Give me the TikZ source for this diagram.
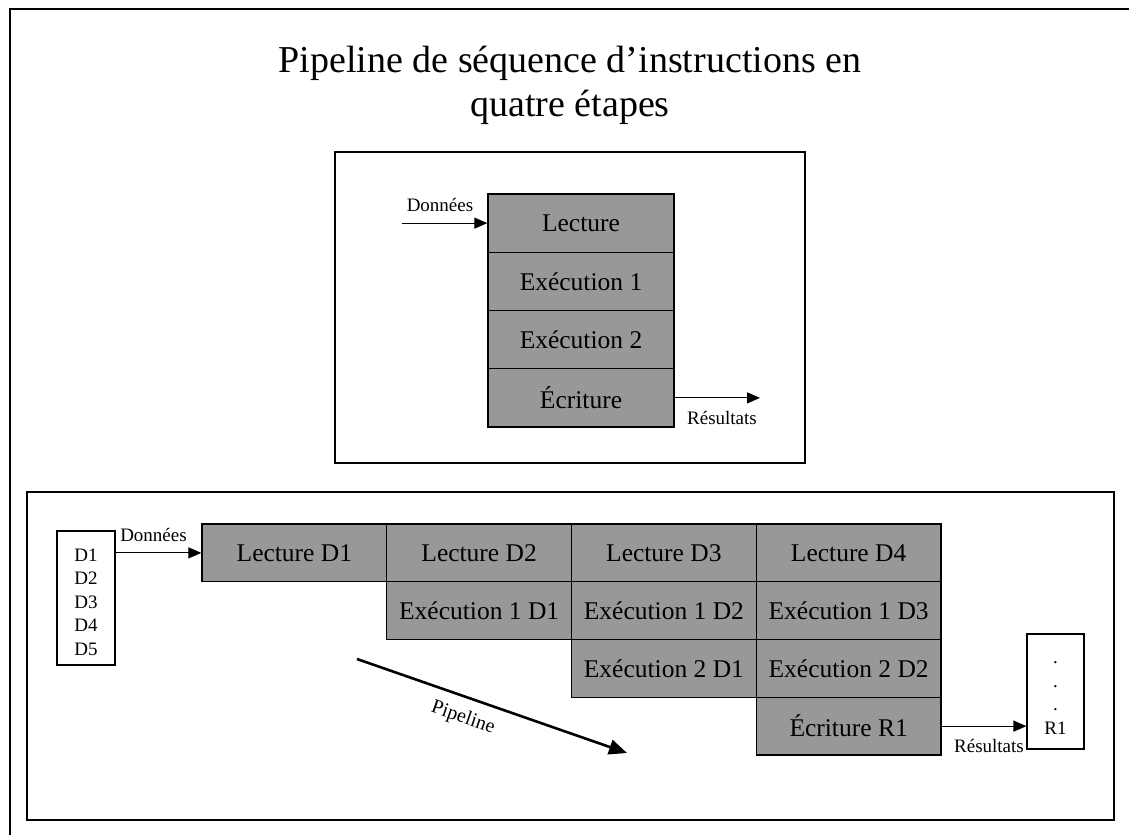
\documentclass[tikz,border=0pt]{standalone}
\usepackage{fontspec}
\setmainfont{Liberation Serif}
\usetikzlibrary{arrows.meta}
\definecolor{cellgray}{RGB}{152,152,152}
\newcommand\pxfont[1]{\fontsize{#1}{#1}\selectfont}
\begin{document}
\begin{tikzpicture}[x=1pt,y=-1pt,
  frame/.style={draw, line width=1.3pt},
  cell/.style={draw, line width=1.3pt, fill=cellgray, inner sep=0pt, font=\pxfont{25.5}},
  upcell/.style={cell, minimum width=186pt, minimum height=58.25pt},
  locell/.style={cell, minimum width=184.75pt, minimum height=57.75pt},
  lbl/.style={font=\pxfont{19}, inner sep=0pt},
  flow/.style={line width=1.2pt, -{Triangle[length=13pt,width=11pt]}},
  pipe/.style={line width=2.6pt, -{Triangle[length=18pt,width=15pt]}},
  listbox/.style={draw, line width=1.1pt, inner sep=0pt},
  listtext/.style={align=center, font=\fontsize{19}{23.5}\selectfont, inner sep=0pt},
  titletext/.style={font=\pxfont{38}, anchor=base, inner sep=0pt}
]
\useasboundingbox (0,0) rectangle (1129,835);

% outer frame (open on the right and at the bottom)
\draw[frame] (1129,9) -- (10,9) -- (10,835);

% title
\node[titletext] (title1) at (570,72) {Pipeline de séquence d’instructions en};
\node[titletext] (title2) at (570,116) {quatre étapes};

% ---- upper panel: one instruction through the four stages ----
\node[frame, minimum width=470pt, minimum height=311pt, inner sep=0pt] (toppanel) at (570,307.5) {};
\node[upcell] (lect) at (581,223.125) {Lecture};
\node[upcell] (exa)  at (581,281.375) {Exécution 1};
\node[upcell] (exb)  at (581,339.625) {Exécution 2};
\node[upcell] (ecr)  at (581,397.875) {Écriture};

\coordinate (din) at (402,223.125);
\coordinate (rout) at (760,397.875);
\draw[flow] (din) -- (lect.west);
\draw[flow] (ecr.east) -- (rout);
\node[lbl] (dlbl1) at (440,205) {Données};
\node[lbl] (rlbl1) at (722,418) {Résultats};

% ---- lower panel: the pipelined sequence ----
\node[frame, minimum width=1087pt, minimum height=328pt, inner sep=0pt] (botpanel) at (570.5,656) {};

\node[locell] (l1) at (294.375,552.875) {Lecture D1};
\node[locell] (l2) at (479.125,552.875) {Lecture D2};
\node[locell] (l3) at (663.875,552.875) {Lecture D3};
\node[locell] (l4) at (848.625,552.875) {Lecture D4};
\node[locell] (a1) at (479.125,610.625) {Exécution 1 D1};
\node[locell] (a2) at (663.875,610.625) {Exécution 1 D2};
\node[locell] (a3) at (848.625,610.625) {Exécution 1 D3};
\node[locell] (b1) at (663.875,668.375) {Exécution 2 D1};
\node[locell] (b2) at (848.625,668.375) {Exécution 2 D2};
\node[locell] (w1) at (848.625,726.125) {Écriture R1};

% input data list and result list
\node[listbox, minimum width=58pt, minimum height=134pt] (dlist) at (86,598) {};
\node[listtext] (dvals) at (86,602) {D1\\D2\\D3\\D4\\D5};
\node[listbox, minimum width=57pt, minimum height=115pt] (rlist) at (1055.5,691.5) {};
\node[listtext] (rvals) at (1055.5,698) {.\\.\\.\\R1};

\draw[flow] (l1.west -| dlist.east) -- (l1.west);
\node[lbl] (dlbl2) at (153.5,535) {Données};
\draw[flow] (w1.east) -- (w1.east -| rlist.west);
\node[lbl] (rlbl2) at (989,746) {Résultats};

% direction of the pipeline
\coordinate (ps) at (357,659);
\coordinate (pe) at (627,753);
\draw[pipe] (ps) -- (pe);
\node[lbl, font=\pxfont{20}, rotate=-19.2] (plbl) at (463,718) {Pipeline};
\end{tikzpicture}
\end{document}
